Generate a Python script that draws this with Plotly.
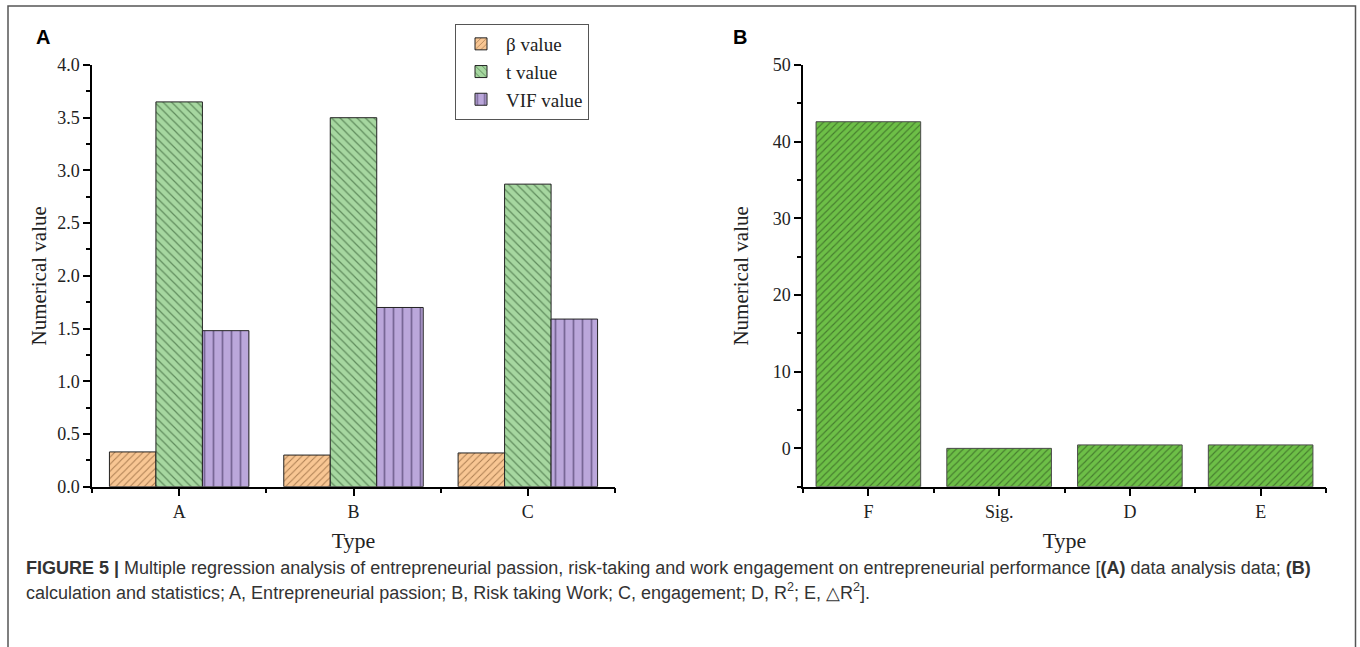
import plotly.graph_objects as go

# ---- data -------------------------------------------------------------
types_a = ["A", "B", "C"]
beta_values = [0.33, 0.30, 0.32]
t_values = [3.65, 3.50, 2.87]
vif_values = [1.48, 1.70, 1.59]

types_b = ["F", "Sig.", "D", "E"]
stat_values = [42.6, 0.0, 0.45, 0.45]

W, H = 1360, 647
SERIF = "Liberation Serif, Times New Roman, serif"
SANS = "Liberation Sans, Arial, sans-serif"


def px_x(p):
    return p / W


def px_y(p):
    return 1 - p / H


fig = go.Figure()

xa = list(range(len(types_a)))
series_a = [
    ("β value", beta_values, "#F8C693", "#5e3510", "/", 5),
    ("t value", t_values, "#A6D7A0", "#1a421a", "\\", 6),
    ("VIF value", vif_values, "#BBA7DB", "#352852", "|", 9),
]
for name, vals, fill, line, shape, size in series_a:
    fig.add_trace(go.Bar(
        x=xa, y=vals, name=name, xaxis="x", yaxis="y",
        marker=dict(
            color=fill,
            line=dict(color="#222222", width=1),
            pattern=dict(shape=shape, fillmode="overlay", fgcolor=line,
                         bgcolor=fill, size=size, solidity=0.2),
        ),
    ))

# Panel B bars start at the bottom of the axis (-5)
BASE_B = -5
xb = list(range(len(types_b)))
fig.add_trace(go.Bar(
    x=xb, y=[v - BASE_B for v in stat_values], base=BASE_B,
    xaxis="x2", yaxis="y2", showlegend=False, name="B",
    marker=dict(
        color="#6DBF47",
        line=dict(color="#4a4a4a", width=1),
        pattern=dict(shape="/", fillmode="overlay", fgcolor="#1f3a16",
                     bgcolor="#6DBF47", size=5, solidity=0.22),
    ),
))

ydom = [px_y(486.7), px_y(65)]

common_x = dict(
    automargin=False,
    showline=True, linecolor="black", linewidth=1.5, showgrid=False,
    zeroline=False, ticks="outside", ticklen=8, tickwidth=1.5,
    tickcolor="black", tickfont=dict(family=SERIF, size=18, color="#222"),
    title=dict(text="Type", font=dict(family=SERIF, size=22, color="#222"),
               standoff=12),
    minor=dict(ticks="outside", ticklen=5, tickwidth=1.5, tickcolor="black",
               tick0=-0.5, dtick=1, showgrid=False),
)


def y_axis(standoff):
    return dict(
        automargin=False,
        showline=True, linecolor="black", linewidth=1.5, showgrid=False,
        zeroline=False, ticks="outside", ticklen=7, tickwidth=1.5,
        tickcolor="black", tickfont=dict(family=SERIF, size=18, color="#222"),
        title=dict(text="Numerical value",
                   font=dict(family=SERIF, size=21, color="#222"),
                   standoff=standoff),
    )


fig.update_layout(
    width=W, height=H,
    margin=dict(l=0, r=0, t=0, b=0, autoexpand=False),
    paper_bgcolor="white", plot_bgcolor="white",
    barmode="group", bargap=0.2, bargroupgap=0,
    xaxis=dict(common_x, domain=[px_x(92), px_x(615)], range=[-0.5, 2.5],
               tickvals=xa, ticktext=types_a, anchor="y"),
    yaxis=dict(y_axis(5), domain=ydom, range=[0, 4.0], tick0=0, dtick=0.5,
               tickformat=".1f", anchor="x",
               minor=dict(ticks="outside", ticklen=4, tickwidth=1.5,
                          tickcolor="black", tick0=0, dtick=0.25)),
    xaxis2=dict(common_x, domain=[px_x(803), px_x(1326)], range=[-0.5, 3.5],
                tickvals=xb, ticktext=types_b, anchor="y2"),
    yaxis2=dict(y_axis(18), domain=ydom, range=[-5, 50], tick0=0, dtick=10,
                anchor="x2",
                minor=dict(ticks="outside", ticklen=4, tickwidth=1.5,
                           tickcolor="black", tick0=-5, dtick=5)),
    legend=dict(
        x=px_x(455), y=px_y(24), xanchor="left", yanchor="top",
        bordercolor="#555555", borderwidth=1, bgcolor="white",
        font=dict(family=SERIF, size=19, color="#222"),
        tracegroupgap=0, itemwidth=40,
    ),
    showlegend=True,
)

# outer frame
fig.add_shape(type="rect", xref="paper", yref="paper",
              x0=px_x(8), x1=px_x(1355.5), y0=-0.05, y1=px_y(6),
              line=dict(color="#555555", width=1.5))

# panel letters
for letter, xpos in (("A", 43), ("B", 740)):
    fig.add_annotation(text=f"<b>{letter}</b>", xref="paper", yref="paper",
                       x=px_x(xpos), y=px_y(37), xanchor="center",
                       yanchor="middle", showarrow=False,
                       font=dict(family=SANS, size=20, color="black"))

# caption
cap1 = ("<b>FIGURE 5 |</b> Multiple regression analysis of entrepreneurial passion, "
        "risk-taking and work engagement on entrepreneurial performance "
        "[<b>(A)</b> data analysis data; <b>(B)</b>")
cap2 = ("calculation and statistics; A, Entrepreneurial passion; B, Risk taking Work; "
        "C, engagement; D, R<sup>2</sup>; E, △R<sup>2</sup>].")
for txt, ypos in ((cap1, 568), (cap2, 591)):
    fig.add_annotation(text=txt, xref="paper", yref="paper",
                       x=px_x(24), y=px_y(ypos), xanchor="left",
                       yanchor="middle", showarrow=False, align="left",
                       font=dict(family=SANS, size=18, color="#333333"))

fig.write_html("out.html")
